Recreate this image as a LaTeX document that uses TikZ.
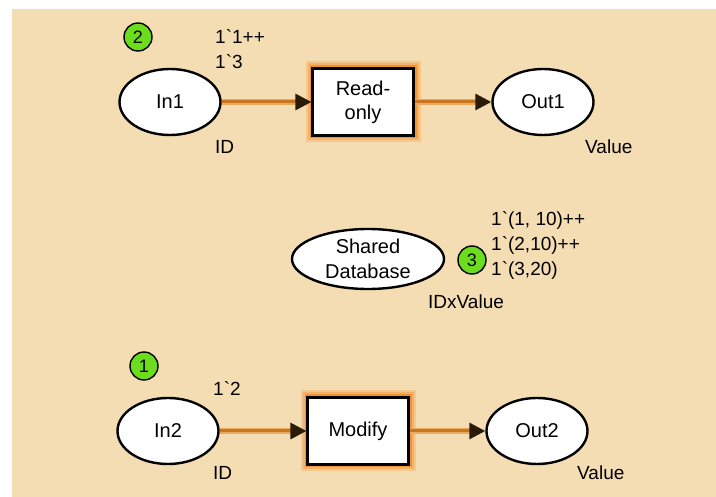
\documentclass[tikz,border=0pt]{standalone}
\usepackage{fontspec}
\setmainfont{Liberation Sans}[Ligatures=TeXOff]
\usepackage{xcolor}
\usepackage{tikz}
\usetikzlibrary{shapes.geometric, arrows.meta}
\definecolor{canvas}{HTML}{F4DCB3}
\definecolor{arcline}{HTML}{C8761F}
\definecolor{arcglow}{HTML}{EBAA62}
\definecolor{tipdark}{HTML}{2A1A08}
\definecolor{glowout}{HTML}{F5C88F}
\definecolor{glowmid}{HTML}{F4B168}
\definecolor{glowin}{HTML}{EE9433}
\definecolor{tokgreen}{HTML}{6CDC1E}
\tikzset{
  place/.style={ellipse, draw=black, line width=2.4pt, fill=white,
    minimum width=101pt, minimum height=66pt, inner sep=0pt,
    align=center, font=\fontsize{20}{25}\selectfont},
  trans/.style={rectangle, draw=black, line width=2.2pt, fill=white,
    minimum width=101pt, minimum height=67pt, inner sep=0pt,
    align=center, font=\fontsize{20}{24}\selectfont,
    preaction={draw=glowout, line width=14pt},
    preaction={draw=glowmid, line width=10pt},
    preaction={draw=glowin, line width=6pt}},
  token/.style={circle, draw=black, line width=1.4pt, fill=tokgreen,
    minimum size=28pt, inner sep=0pt, font=\fontsize{18}{18}\selectfont},
  marking/.style={anchor=west, align=left, inner sep=0pt,
    font=\fontsize{19}{25}\selectfont},
  arc/.style={draw=arcline, line width=3pt,
    -{Triangle[length=16pt, width=16pt, color=tipdark]},
    preaction={draw=arcglow, line width=5.5pt, -, shorten >=12pt}}
}

\begin{document}
\begin{tikzpicture}[x=1pt, y=-1pt]
  \useasboundingbox (0,0) rectangle (716,497);
  \fill[canvas] (12,9) rectangle (716,497);
  % Places
  \node[place] (in1) at (170,102) {In1};
  \node[place] (out1) at (543,102) {Out1};
  \node[place, minimum width=152pt, minimum height=60pt] (db) at (368,259) {Shared\\Database};
  \node[place] (in2) at (168,431) {In2};
  \node[place] (out2) at (537,431) {Out2};
  % Transitions
  \node[trans] (readonly) at (363,102) {Read-\\only};
  \node[trans] (modify) at (358,431) {Modify};
  % Arcs
  \draw[arc] (in1) -- (readonly);
  \draw[arc] (readonly) -- (out1);
  \draw[arc] (in2) -- (modify);
  \draw[arc] (modify) -- (out2);
  % Colour sets
  \node[marking] (in1type) at (215,147) {ID};
  \node[marking] (out1type) at (585,147) {Value};
  \node[marking] (dbtype) at (428,302) {IDxValue};
  \node[marking] (in2type) at (213,473) {ID};
  \node[marking] (out2type) at (577,473) {Value};
  % Markings
  \node[marking] (in1mark) at (215,49.5) {1`1++\\1`3};
  \node[marking] (dbmark) at (491,245) {1`(1, 10)++\\1`(2,10)++\\1`(3,20)};
  \node[marking] (in2mark) at (213,389) {1`2};
  % Tokens
  \foreach \name/\x/\y/\count in {in1tok/138/37/2, dbtok/472/260/3, in2tok/144/366/1}
    \node[token] (\name) at (\x,\y) {\count};
\end{tikzpicture}
\end{document}
